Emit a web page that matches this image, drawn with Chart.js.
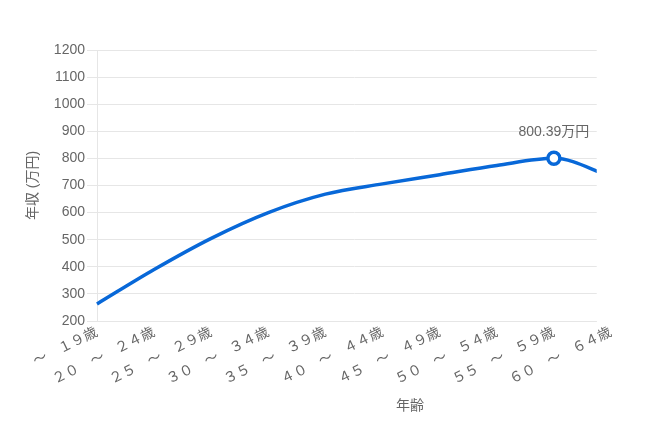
<!DOCTYPE html>
<html><head><meta charset="utf-8">
<script src="https://cdn.jsdelivr.net/npm/chart.js@4/dist/chart.umd.min.js"></script>
<style>html,body{margin:0;padding:0;background:#fff}#wrap{width:645px;height:430px}</style>
</head><body><div id="wrap"><canvas id="c" width="645" height="430"></canvas></div>
<script>
const categories = ['～　１９歳','２０　～　２４歳','２５　～　２９歳','３０　～　３４歳','３５　～　３９歳','４０　～　４４歳','４５　～　４９歳','５０　～　５４歳','５５　～　５９歳','６０　～　６４歳'];
const incomes = [263, 390, 505, 600, 668, 706, 740, 774, 800.39, 733];
const yMin = 200, yMax = 1200, yStep = 100;
const peakIndex = 8;
const peakLabel = '800.39万円';
const yTitle = '年収 (万円)';
const xTitle = '年齢';

const FONT = "Arial, 'Liberation Sans', 'Noto Sans CJK JP', sans-serif";
const GRAY = '#666666';
const BLUE = '#0868d8';

const clipPlugin = {
  id: 'clipRight',
  beforeDraw(chart) {
    const ctx = chart.ctx, a = chart.chartArea, xs = chart.scales.x;
    const cx = xs.getPixelForValue(8.75);
    ctx.save();
    ctx.beginPath();
    ctx.rect(0, 0, chart.width, chart.height);
    ctx.rect(cx, 0, chart.width - cx, a.bottom + 1);
    ctx.clip('evenodd');
  },
  afterDraw(chart) {
    chart.ctx.restore();
    const ctx = chart.ctx;
    const pt = chart.getDatasetMeta(0).data[peakIndex];
    ctx.save();
    ctx.font = '14px ' + FONT;
    ctx.fillStyle = GRAY;
    ctx.textAlign = 'center';
    ctx.textBaseline = 'middle';
    ctx.fillText(peakLabel, pt.x, pt.y - 26);
    ctx.restore();
  }
};

new Chart(document.getElementById('c'), {
  type: 'line',
  data: {
    labels: categories,
    datasets: [{
      data: incomes,
      borderColor: BLUE,
      borderWidth: 3.5,
      tension: 0.4,
      cubicInterpolationMode: 'monotone',
      fill: false,
      pointRadius: ctx => ctx.dataIndex === peakIndex ? 6 : 0,
      pointHoverRadius: ctx => ctx.dataIndex === peakIndex ? 6 : 0,
      pointBackgroundColor: '#ffffff',
      pointBorderColor: BLUE,
      pointBorderWidth: 3.5,
      clip: false
    }]
  },
  options: {
    responsive: false,
    animation: false,
    devicePixelRatio: 1,
    layout: { padding: { top: 50, right: 34, left: 0, bottom: 0 } },
    plugins: { legend: { display: false }, tooltip: { enabled: false } },
    font: { family: FONT },
    scales: {
      x: {
        type: 'category',
        offset: false,
        afterFit(s) { s.height = 109; },
        grid: { display: false, drawTicks: false },
        border: { display: true, color: '#e6e6e6' },
        ticks: { color: GRAY, font: { size: 14, family: FONT }, minRotation: 26, maxRotation: 26, autoSkip: false, padding: 3 },
        title: { display: true, text: '\u3000\u3000\u3000\u3000\u3000\u3000\u3000\u3000' + xTitle, color: GRAY, font: { size: 14, family: FONT }, padding: { top: 0, bottom: 15 } }
      },
      y: {
        min: yMin, max: yMax,
        afterFit(s) { s.width = 97; },
        grid: { color: '#e6e6e6', tickLength: 10 },
        border: { display: true, color: '#e6e6e6' },
        ticks: { stepSize: yStep, color: GRAY, font: { size: 14, family: FONT }, padding: 2, callback: v => String(v) },
        title: { display: true, text: yTitle, color: GRAY, font: { size: 14, family: FONT }, padding: { top: 25, bottom: 0 } }
      }
    }
  },
  plugins: [clipPlugin]
});
</script></body></html>
